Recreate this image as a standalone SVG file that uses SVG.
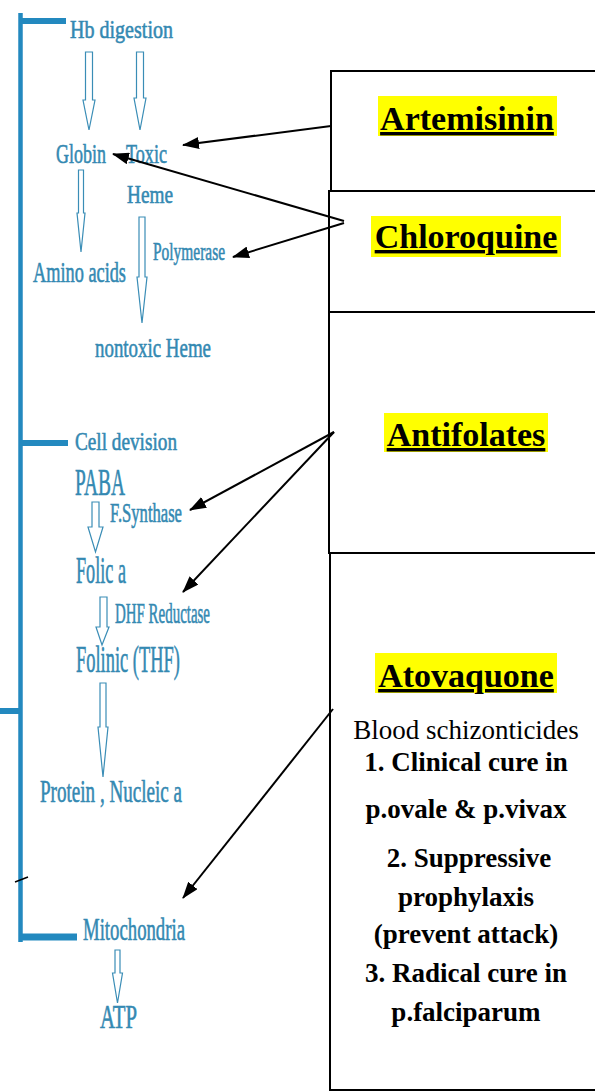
<svg xmlns="http://www.w3.org/2000/svg" width="595" height="1092" viewBox="0 0 595 1092">
<style>
.bl{font-family:"Liberation Serif",serif;fill:#3489b2;stroke:#3489b2;stroke-width:0.6;}
.bar{stroke:#2389bf;fill:none;}
.harr{fill:#ffffff;stroke:#3a8db6;stroke-width:1.2;}
.box{fill:#ffffff;stroke:#000000;stroke-width:2;}
.ttl{font-family:"Liberation Serif",serif;font-weight:bold;font-size:34px;fill:#000;text-anchor:middle;text-decoration:underline;}
.hl{fill:#ffff00;}
.bd{font-family:"Liberation Serif",serif;font-size:27px;fill:#000;text-anchor:middle;}
.bdb{font-family:"Liberation Serif",serif;font-size:27px;font-weight:bold;fill:#000;text-anchor:middle;}
.con{stroke:#000;stroke-width:2;fill:none;marker-end:url(#ah);}
</style>
<defs>
<marker id="ah" markerUnits="userSpaceOnUse" markerWidth="17" markerHeight="12" viewBox="0 0 17 12" refX="16" refY="6" orient="auto">
<path d="M0,0 L17,6 L0,12 z" fill="#000"/>
</marker>
</defs>
<rect width="595" height="1092" fill="#ffffff"/>

<g id="tree-bars">
<line class="bar" x1="20.5" y1="13" x2="20.5" y2="942" stroke-width="4.5"/>
<line class="bar" x1="19" y1="21" x2="66" y2="21" stroke-width="6"/>
<line class="bar" x1="20" y1="443" x2="68" y2="443" stroke-width="6"/>
<line class="bar" x1="0" y1="711" x2="22" y2="711" stroke-width="6"/>
<line class="bar" x1="19" y1="937" x2="77" y2="937" stroke-width="7"/>
<line x1="15" y1="882" x2="28" y2="877" stroke="#000" stroke-width="1.5"/>
</g>

<g id="hb-digestion">
<text class="bl" x="70" y="38" font-size="26" textLength="103" lengthAdjust="spacingAndGlyphs">Hb digestion</text>
</g>
<g id="globin">
<text class="bl" x="56" y="163" font-size="28" textLength="50" lengthAdjust="spacingAndGlyphs">Globin</text>
</g>
<g id="toxic-heme">
<text class="bl" x="126" y="163" font-size="28" textLength="41" lengthAdjust="spacingAndGlyphs">Toxic</text>
<text class="bl" x="127" y="203" font-size="26" textLength="46" lengthAdjust="spacingAndGlyphs">Heme</text>
</g>
<g id="amino-acids">
<text class="bl" x="33" y="282" font-size="29" textLength="93" lengthAdjust="spacingAndGlyphs">Amino acids</text>
</g>
<g id="polymerase">
<text class="bl" x="153" y="260" font-size="25" textLength="72" lengthAdjust="spacingAndGlyphs">Polymerase</text>
</g>
<g id="nontoxic-heme">
<text class="bl" x="95" y="357" font-size="28" textLength="116" lengthAdjust="spacingAndGlyphs">nontoxic Heme</text>
</g>
<g id="cell-devision">
<text class="bl" x="75" y="450" font-size="26" textLength="102" lengthAdjust="spacingAndGlyphs">Cell devision</text>
</g>
<g id="paba">
<text class="bl" x="75" y="495" font-size="37" textLength="50" lengthAdjust="spacingAndGlyphs">PABA</text>
</g>
<g id="f-synthase">
<text class="bl" x="110" y="522" font-size="27" textLength="72" lengthAdjust="spacingAndGlyphs">F.Synthase</text>
</g>
<g id="folic-a">
<text class="bl" x="76" y="583" font-size="37" textLength="50" lengthAdjust="spacingAndGlyphs">Folic a</text>
</g>
<g id="dhf-reductase">
<text class="bl" x="115" y="623" font-size="30" textLength="95" lengthAdjust="spacingAndGlyphs">DHF Reductase</text>
</g>
<g id="folinic">
<text class="bl" x="76" y="672" font-size="37" textLength="104" lengthAdjust="spacingAndGlyphs">Folinic (THF)</text>
</g>
<g id="protein">
<text class="bl" x="40" y="802" font-size="32" textLength="142" lengthAdjust="spacingAndGlyphs">Protein , Nucleic a</text>
</g>
<g id="mitochondria">
<text class="bl" x="83" y="940" font-size="32" textLength="102" lengthAdjust="spacingAndGlyphs">Mitochondria</text>
</g>
<g id="atp">
<text class="bl" x="100" y="1028" font-size="34" textLength="37" lengthAdjust="spacingAndGlyphs">ATP</text>
</g>

<g id="flow-arrows">
<polygon class="harr" points="85.5,52 92.5,52 92.5,100 95,100 89,130 83,100 85.5,100"/>
<polygon class="harr" points="136.5,52 143.5,52 143.5,98 146,98 140,130 134,98 136.5,98"/>
<polygon class="harr" points="78.5,170 83.5,170 83.5,213 85,213 81,252 77,213 78.5,213"/>
<polygon class="harr" points="139,217 145,217 145,277 147,277 142,323 137,277 139,277"/>
<polygon class="harr" points="92,502 99,502 99,527 103,527 95.5,552 88,527 92,527"/>
<polygon class="harr" points="100,597 107,597 107,627 109,627 102,645 96,627 100,627"/>
<polygon class="harr" points="100,683 106,683 106,727 108,727 103,777 98,727 100,727"/>
<polygon class="harr" points="115,950 120,950 120,973 122.5,973 117.5,1003 112.5,973 115,973"/>
</g>

<g id="artemisinin">
<rect class="box" x="331" y="71" width="270" height="120"/>
<rect class="hl" x="378" y="96" width="179" height="40"/>
<text class="ttl" x="467" y="130">Artemisinin</text>
</g>
<g id="chloroquine">
<rect class="box" x="329" y="191" width="272" height="121"/>
<rect class="hl" x="371" y="216" width="190" height="41"/>
<text class="ttl" x="466" y="248">Chloroquine</text>
</g>
<g id="antifolates">
<rect class="box" x="329" y="312" width="272" height="241"/>
<rect class="hl" x="384" y="413" width="164" height="39"/>
<text class="ttl" x="466" y="446">Antifolates</text>
</g>
<g id="atovaquone">
<rect class="box" x="330" y="553" width="271" height="537"/>
<rect class="hl" x="375" y="653" width="182" height="40"/>
<text class="ttl" x="466" y="687">Atovaquone</text>
<text class="bd" x="466" y="739">Blood schizonticides</text>
<text class="bdb" x="466" y="771">1. Clinical cure in</text>
<text class="bdb" x="466" y="818">p.ovale &amp; p.vivax</text>
<text class="bdb" x="469" y="867">2. Suppressive</text>
<text class="bdb" x="466" y="906">prophylaxis</text>
<text class="bdb" x="466" y="943">(prevent attack)</text>
<text class="bdb" x="466" y="982">3. Radical cure in</text>
<text class="bdb" x="466" y="1021">p.falciparum</text>
</g>

<g id="connectors">
<line class="con" x1="331" y1="126" x2="183" y2="145"/>
<line class="con" x1="344" y1="221" x2="113" y2="154"/>
<line class="con" x1="344" y1="223" x2="233" y2="257"/>
<line class="con" x1="334" y1="432" x2="190" y2="510"/>
<line class="con" x1="334" y1="432" x2="183" y2="592"/>
<line class="con" x1="333" y1="709" x2="183" y2="898"/>
</g>
</svg>
